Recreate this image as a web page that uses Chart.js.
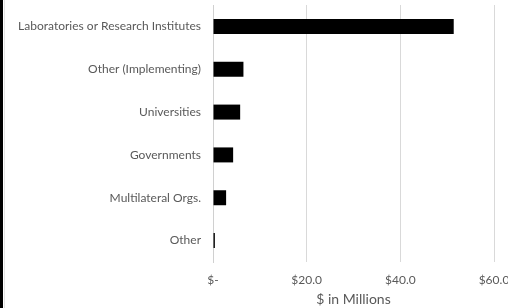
<!DOCTYPE html>
<html>
<head>
<meta charset="utf-8">
<script src="https://cdn.jsdelivr.net/npm/chart.js@4.4.1/dist/chart.umd.min.js"></script>
<style>
  html, body { margin: 0; padding: 0; background: #fff; overflow: hidden; }
  #wrap { position: absolute; left: 0; top: 0; width: 508px; height: 308px; }
  #edge { position: absolute; left: 0; top: 0; width: 3px; height: 308px; background: #000; }
  #edge2 { position: absolute; left: 4px; top: 0; width: 1px; height: 308px; background: #e3e3e3; }
</style>
</head>
<body>
<div id="wrap"><canvas id="chart"></canvas></div>
<div id="edge"></div>
<div id="edge2"></div>
<script>
// datos (millones de USD)
const categories = [
  'Laboratories or Research Institutes',
  'Other (Implementing)',
  'Universities',
  'Governments',
  'Multilateral Orgs.',
  'Other'
];
const amounts = [51.4, 6.5, 5.8, 4.3, 2.8, 0.4];
const xTicks = [0, 20, 40, 60];

const fontFam = 'Lato, "Open Sans", sans-serif';
const txt = '#595959';

const fmt = v => v === 0 ? '$-' : '$' + v.toFixed(1);

new Chart(document.getElementById('chart'), {
  type: 'bar',
  data: {
    labels: categories,
    datasets: [{
      data: amounts,
      backgroundColor: '#000',
      borderWidth: 0,
      categoryPercentage: 1,
      barPercentage: 0.35,
    }],
  },
  options: {
    indexAxis: 'y',
    responsive: true,
    maintainAspectRatio: false,
    animation: false,
    layout: { padding: { top: 5, right: 14, left: 0, bottom: 0 } },
    plugins: { legend: { display: false }, tooltip: { enabled: false } },
    scales: {
      x: {
        min: 0, max: 60,
        afterBuildTicks: s => { s.ticks = xTicks.map(v => ({ value: v })); },
        afterFit: s => { s.paddingLeft = 0; s.paddingRight = 0; s.height = 46; },
        grid: { color: '#d9d9d9', drawTicks: false },
        border: { display: false },
        ticks: { color: txt, padding: 11, font: { family: fontFam, size: 12 }, callback: v => fmt(v), maxRotation: 0 },
        title: { display: true, text: '$ in Millions', color: txt, padding: { top: 1, bottom: 0 }, font: { family: fontFam, size: 14 } },
      },
      y: {
        afterFit: s => { s.width = 213; s.paddingTop = 0; s.paddingBottom = 0; },
        grid: { display: false },
        border: { color: '#d0d0d0', width: 1 },
        ticks: { color: txt, padding: 4, font: { family: fontFam, size: 12 } },
      },
    },
  },
});
</script>
</body>
</html>
